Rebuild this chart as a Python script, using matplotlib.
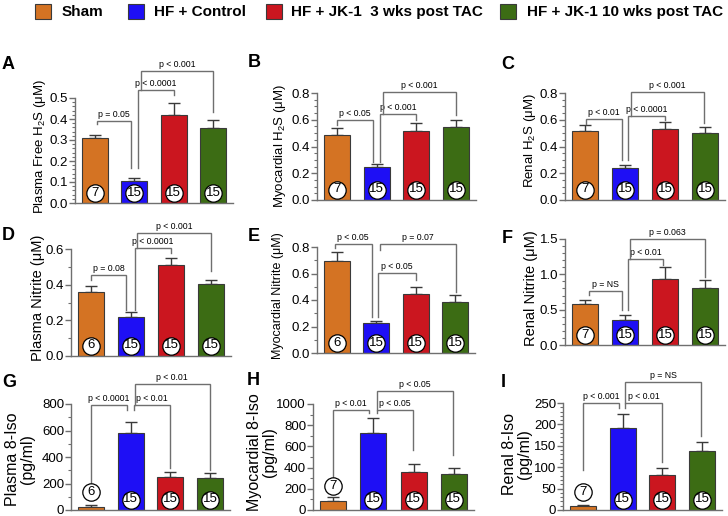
import matplotlib
matplotlib.use("Agg")
import matplotlib.pyplot as plt
from matplotlib import font_manager as fm
from matplotlib.patches import Rectangle
from matplotlib.ticker import MultipleLocator

W, H = 728, 516

# ---------------- data ----------------
groups = ["Sham", "HF + Control", "HF + JK-1  3 wks post TAC", "HF + JK-1 10 wks post TAC"]
colors = ["#D47323", "#1E0FF5", "#CB161F", "#3C6C14"]

A_mean = [0.31, 0.105, 0.42, 0.355]
A_sem = [0.016, 0.016, 0.057, 0.040]
A_n = [7, 15, 15, 15]

B_mean = [0.485, 0.246, 0.516, 0.546]
B_sem = [0.052, 0.022, 0.062, 0.049]
B_n = [7, 15, 15, 15]

C_mean = [0.514, 0.237, 0.531, 0.499]
C_sem = [0.045, 0.022, 0.052, 0.045]
C_n = [7, 15, 15, 15]

D_mean = [0.359, 0.220, 0.508, 0.404]
D_sem = [0.034, 0.025, 0.039, 0.022]
D_n = [6, 15, 15, 15]

E_mean = [0.694, 0.226, 0.443, 0.388]
E_sem = [0.071, 0.018, 0.058, 0.047]
E_n = [6, 15, 15, 15]

F_mean = [0.575, 0.347, 0.931, 0.803]
F_sem = [0.062, 0.076, 0.166, 0.114]
F_n = [7, 15, 15, 15]

G_mean = [25, 579, 247, 241]
G_sem = [10, 87, 43, 36]
G_n = [6, 15, 15, 15]

H_mean = [85, 723, 361, 340]
H_sem = [35, 142, 70, 53]
H_n = [7, 15, 15, 15]

I_mean = [10, 191, 82, 139]
I_sem = [2, 34, 16, 20]
I_n = [7, 15, 15, 15]

# ---------------- fonts ----------------
names = {f.name for f in fm.fontManager.ttflist}
BASE = "Liberation Sans" if "Liberation Sans" in names else "DejaVu Sans"
NARROW = "Liberation Sans Narrow" if "Liberation Sans Narrow" in names else None
plt.rcParams["font.family"] = [BASE, "DejaVu Sans"]
plt.rcParams["mathtext.fontset"] = "custom"
plt.rcParams["mathtext.rm"] = BASE
plt.rcParams["mathtext.it"] = BASE

fig = plt.figure(figsize=(W / 100, H / 100), dpi=100)

GRAY = "#6f6f6f"
DARK = "#3a3a3a"


def fx(px):
    return px / W


def fy(py):
    return 1 - py / H


# ---------------- legend ----------------
leg_sq = [35, 128, 266, 500]
leg_tx = [62, 154, 291, 527]
for c, g, sx, tx in zip(colors, groups, leg_sq, leg_tx):
    fig.patches.append(Rectangle((fx(sx), fy(19)), 16 / W, 15 / H, transform=fig.transFigure,
                                 facecolor=c, edgecolor=DARK, linewidth=0.8))
    if NARROW:
        fig.text(fx(tx), fy(12), g, family=[NARROW, BASE], fontsize=13, fontweight="bold",
                 va="center", ha="left")
    else:
        fig.text(fx(tx), fy(12), g, fontsize=11, fontweight="bold", va="center", ha="left")

panels = [
    # letter, box(l,t,r,b), ymax, major, minor, mean, sem, n, ylabel, label_x, label_y, label_fs, letter_xy
    ("A", (75, 98, 233, 203), 0.5, 0.1, 0.02, A_mean, A_sem, A_n,
     "Plasma Free H$_2$S (μM)", 40, 146, 9.5, (2, 56)),
    ("B", (317, 93, 476, 200), 0.8, 0.2, 0.05, B_mean, B_sem, B_n,
     "Myocardial H$_2$S (μM)", 280, 146, 9.5, (248, 54)),
    ("C", (565, 93, 725, 200), 0.8, 0.2, 0.05, C_mean, C_sem, C_n,
     "Renal H$_2$S (μM)", 530, 141, 9.5, (501, 56)),
    ("D", (71, 249, 231, 356), 0.6, 0.2, 0.1, D_mean, D_sem, D_n,
     "Plasma Nitrite (μM)", 38, 298, 10.5, (2, 227)),
    ("E", (317, 247, 475, 353), 0.8, 0.2, 0.1, E_mean, E_sem, E_n,
     "Myocardial Nitrite (μM)", 278, 296, 9, (248, 228)),
    ("F", (565, 239, 725, 345), 1.5, 0.5, 0.1, F_mean, F_sem, F_n,
     "Renal Nitrite (μM)", 531, 288, 10.5, (502, 230)),
    ("G", (71, 404, 230, 510), 800, 200, 100, G_mean, G_sem, G_n,
     "Plasma 8-Iso\n(pg/ml)", 20, 459, 11.5, (2, 374)),
    ("H", (313, 404, 474, 510), 1000, 200, 100, H_mean, H_sem, H_n,
     "Myocardial 8-Iso\n(pg/ml)", 262, 452, 11.5, (247, 372)),
    ("I", (563, 403, 722, 510), 250, 50, 10, I_mean, I_sem, I_n,
     "Renal 8-Iso\n(pg/ml)", 517, 454, 11.5, (501, 374)),
]

brackets = {
    "A": [(0.05, 0.92, 0.392, 0.376, 0.167, "p = 0.05"),
          (1.09, 2.0, 0.538, 0.167, 0.514, "p < 0.0001"),
          (1.17, 3.0, 0.63, 0.538, 0.435, "p < 0.001")],
    "B": [(0.0, 0.91, 0.598, 0.56, 0.286, "p < 0.05"),
          (1.08, 2.0, 0.64, 0.286, 0.598, "p < 0.001"),
          (1.15, 3.0, 0.805, 0.64, 0.635, "p < 0.001")],
    "C": [(0.03, 0.93, 0.603, 0.568, 0.3, "p < 0.01"),
          (1.08, 2.0, 0.63, 0.3, 0.598, "p < 0.0001"),
          (1.14, 2.98, 0.805, 0.63, 0.578, "p < 0.001")],
    "D": [(0.0, 0.875, 0.452, 0.428, 0.26, "p = 0.08"),
          (1.1, 1.99, 0.606, 0.26, 0.58, "p < 0.0001"),
          (1.16, 2.99, 0.69, 0.606, 0.475, "p < 0.001")],
    "E": [(-0.05, 0.88, 0.825, 0.79, 0.27, "p < 0.05"),
          (1.1, 3.03, 0.825, 0.775, 0.46, "p = 0.07"),
          (1.05, 2.0, 0.604, 0.27, 0.55, "p < 0.05")],
    "F": [(0.11, 0.93, 0.77, 0.71, 0.49, "p = NS"),
          (1.08, 1.95, 1.217, 0.49, 1.135, "p < 0.01"),
          (1.12, 3.0, 1.505, 1.217, 0.96, "p = 0.063")],
    "G": [(0.0, 0.92, 792, 189, 755, "p < 0.0001"),
          (1.08, 2.0, 792, 755, 315, "p < 0.01"),
          (1.1, 3.0, 951, 792, 302, "p < 0.01")],
    "H": [(0.0, 0.9, 943, 290, 912, "p < 0.01"),
          (1.09, 1.98, 943, 912, 566, "p < 0.05"),
          (1.09, 2.97, 1123, 943, 519, "p < 0.05")],
    "I": [(0.0, 0.91, 250, 94, 238, "p < 0.001"),
          (1.07, 1.98, 250, 238, 113, "p < 0.01"),
          (1.07, 2.98, 299, 250, 172, "p = NS")],
}

x = [0, 1, 2, 3]
for (letter, box, ymax, major, minor, mean, sem, n, ylab, lx, ly, lfs, lxy) in panels:
    l, t, r, b = box
    ax = fig.add_axes([fx(l), fy(b), (r - l) / W, (b - t) / H])
    ax.set_xlim(-0.5, 3.5)
    ax.set_ylim(0, ymax)
    ax.patch.set_alpha(0)
    ax.bar(x, mean, width=0.65, color=colors, edgecolor=DARK, linewidth=0.8, zorder=2)
    ax.errorbar(x, mean, yerr=[[0] * 4, sem], fmt="none", ecolor=DARK, elinewidth=1.0,
                capsize=4.5, capthick=1.0, zorder=1)
    for s in ["top", "right"]:
        ax.spines[s].set_visible(False)
    for s in ["left", "bottom"]:
        ax.spines[s].set_color(GRAY)
        ax.spines[s].set_linewidth(1.0)
    ax.set_xticks([])
    ax.yaxis.set_major_locator(MultipleLocator(major))
    ax.yaxis.set_minor_locator(MultipleLocator(minor))
    ax.tick_params(axis="y", which="major", length=4, width=1, color=GRAY, labelsize=9.5, pad=1)
    ax.tick_params(axis="y", which="minor", length=2, width=0.8, color=GRAY)
    if major < 1:
        ax.yaxis.set_major_formatter(matplotlib.ticker.FormatStrFormatter("%.1f"))
    # n circles
    hpx = b - t
    scale = ymax / hpx
    for xi, m, s, nn in zip(x, mean, sem, n):
        top_px = (m + s) / scale
        ypx = 10.5 if m / scale > 20 else max(18, top_px + 11.5)
        ax.plot([xi], [ypx * scale], marker="o", markersize=12.5, markerfacecolor="white",
                markeredgecolor="black", markeredgewidth=0.9, zorder=4, clip_on=False)
        ax.text(xi, ypx * scale, str(nn), ha="center", va="center", fontsize=9.5, zorder=5,
                family=[NARROW, BASE] if NARROW else [BASE])
    # brackets
    for (x1, x2, yy, y1e, y2e, txt) in brackets[letter]:
        ax.plot([x1, x1, x2, x2], [y1e, yy, yy, y2e], color=GRAY, lw=1.0, clip_on=False,
                zorder=3, solid_joinstyle="miter")
        ax.annotate(txt, xy=((x1 + x2) / 2, yy), xytext=(0, 1.5), textcoords="offset points",
                    ha="center", va="bottom", fontsize=6.3, annotation_clip=False)
    fig.text(fx(lx), fy(ly), ylab, rotation=90, ha="center", va="center", fontsize=lfs,
             linespacing=1.0)
    fig.text(fx(lxy[0]), fy(lxy[1]), letter, fontsize=13, fontweight="bold", ha="left", va="top")

fig.savefig("out.png", dpi=100)
